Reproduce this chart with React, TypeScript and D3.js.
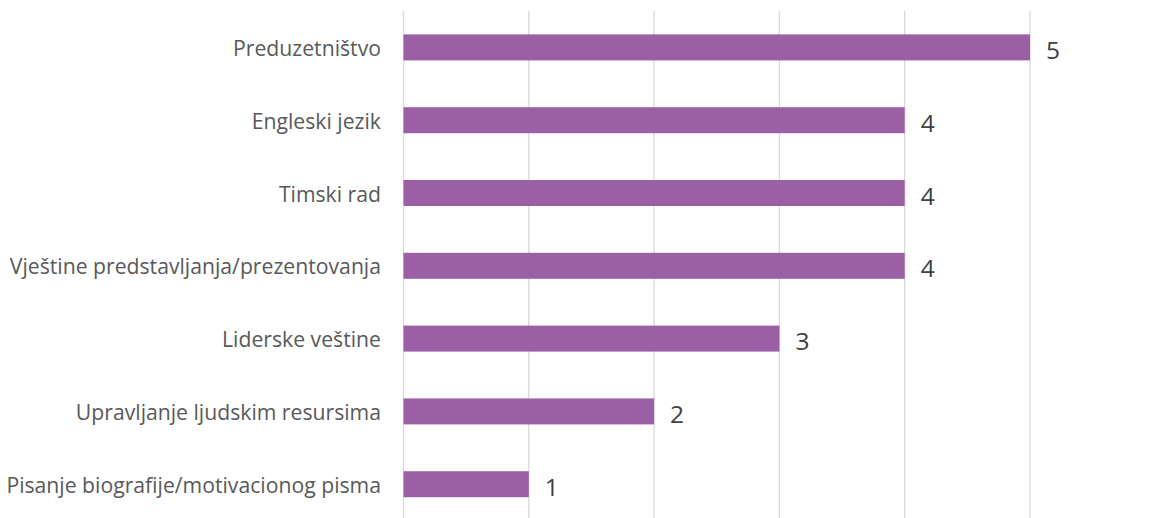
import React from 'react';
import * as d3 from 'd3';

const categories = [
  'Preduzetništvo',
  'Engleski jezik',
  'Timski rad',
  'Vještine predstavljanja/prezentovanja',
  'Liderske veštine',
  'Upravljanje ljudskim resursima',
  'Pisanje biografije/motivacionog pisma',
];
const values = [5, 4, 4, 4, 3, 2, 1];
const ticks = [0, 1, 2, 3, 4, 5];

const W = 1151;
const H = 518;

const App = () => {
  const x = d3.scaleLinear().domain([0, 5]).range([403.5, 1030]);
  const y = d3
    .scaleBand<string>()
    .domain(categories)
    .range([11, 520.6])
    .paddingInner(0.643)
    .paddingOuter(0.3215);

  return (
    <svg
      width={W}
      height={H}
      style={{ position: 'absolute', left: 0, top: 0, fontFamily: '"Open Sans", sans-serif' }}
    >
      <rect width={W} height={H} fill="#fff" />
      {/* gridlines */}
      {ticks.map((t) => (
        <line key={t} x1={x(t)} x2={x(t)} y1={11} y2={H} stroke="#d9d9d9" strokeWidth={1.3} />
      ))}
      {categories.map((c, i) => {
        const yy = y(c)!;
        const bw = y.bandwidth();
        return (
          <g key={c}>
            <rect x={x(0)} y={yy} width={x(values[i]) - x(0)} height={bw} fill="#9b5fa5" />
            <text
              x={381}
              y={yy + bw / 2}
              textAnchor="end"
              dominantBaseline="central"
              fontSize={21.2}
              fill="#595959"
            >
              {c}
            </text>
            <text
              x={x(values[i]) + 16}
              y={yy + bw / 2 + 2}
              dominantBaseline="central"
              fontSize={24.5}
              fill="#404040"
            >
              {values[i]}
            </text>
          </g>
        );
      })}
    </svg>
  );
};

export default App;
